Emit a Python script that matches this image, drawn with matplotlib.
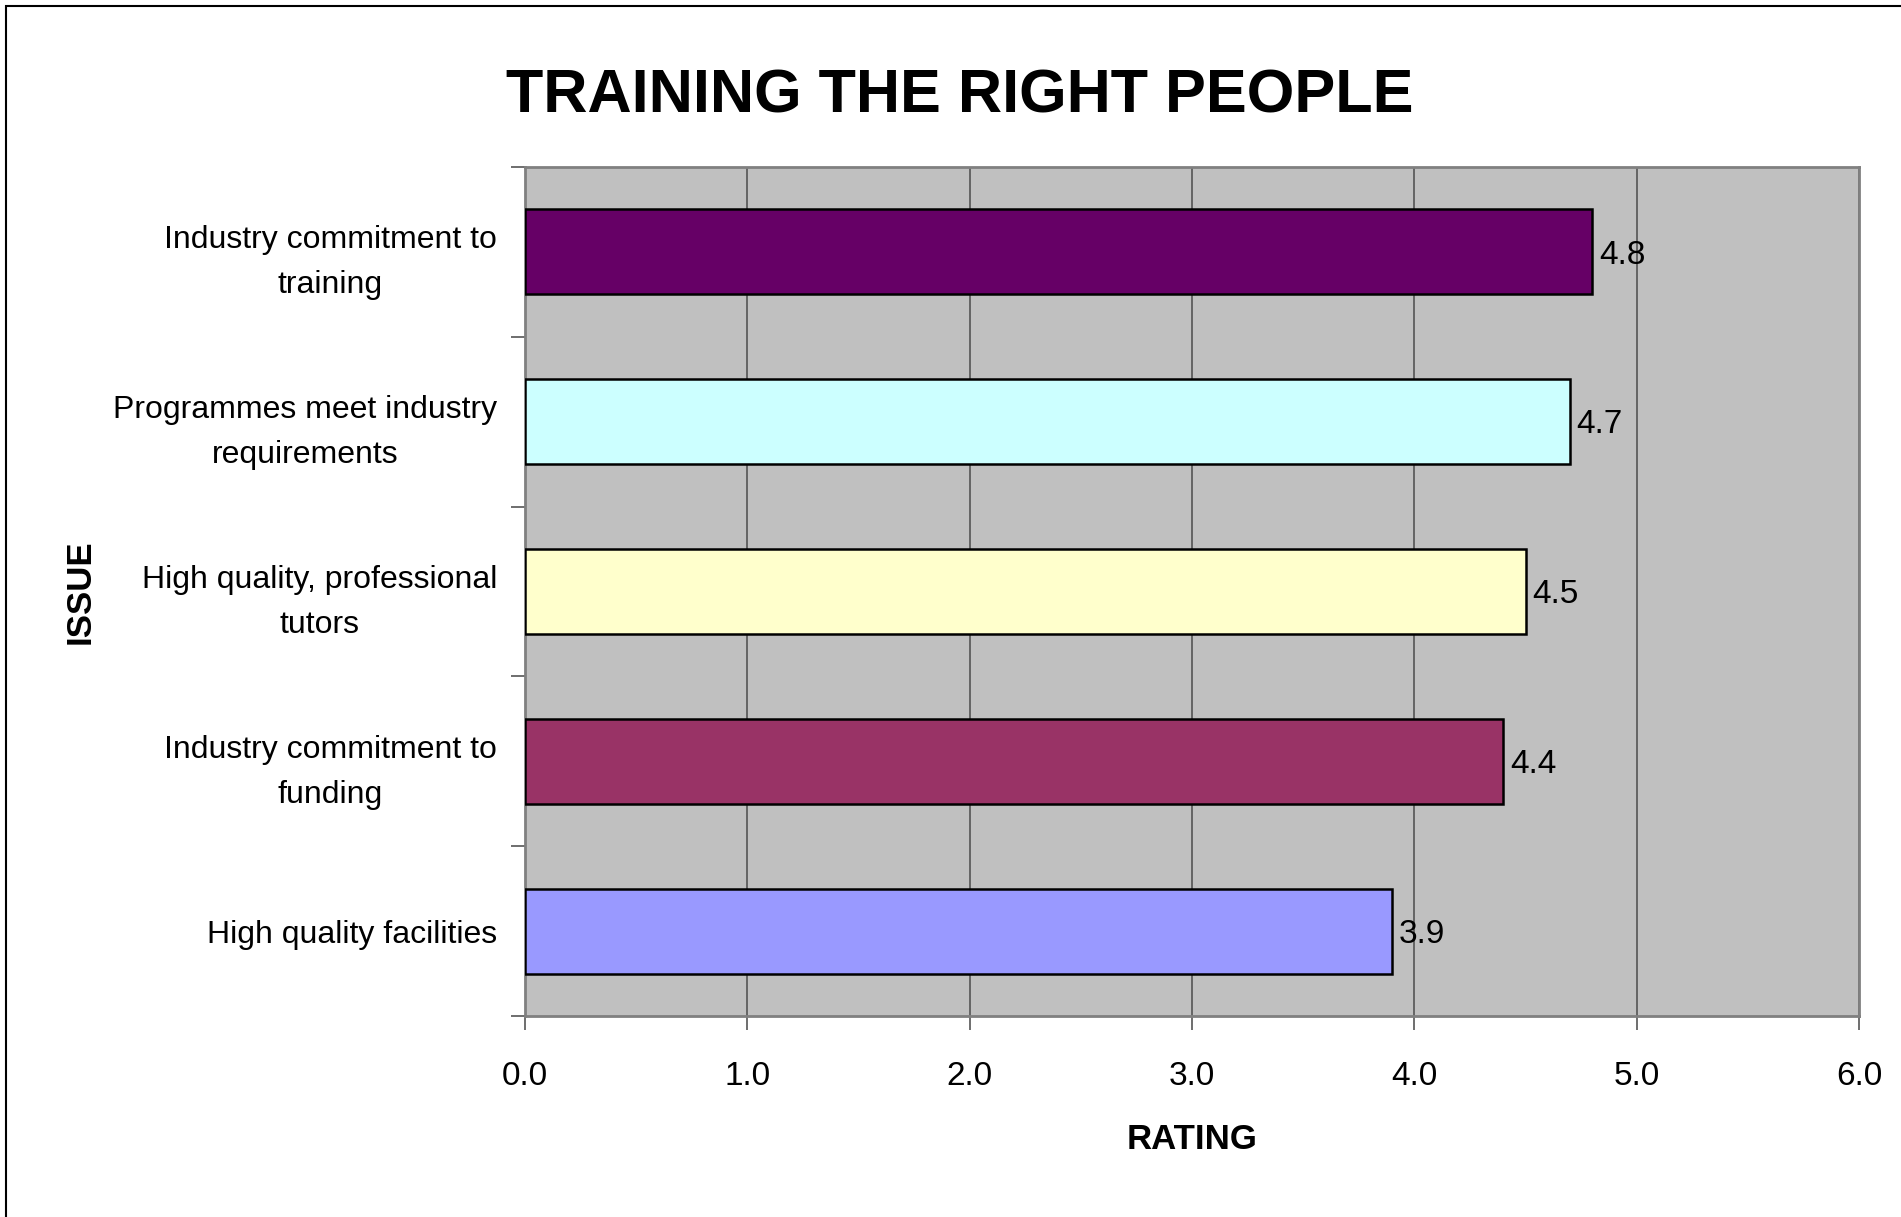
import matplotlib.pyplot as plt
from matplotlib.patches import Rectangle

issues = ['Industry commitment to\ntraining',
          'Programmes meet industry\nrequirements',
          'High quality, professional\ntutors',
          'Industry commitment to\nfunding',
          'High quality facilities']
ratings = [4.8, 4.7, 4.5, 4.4, 3.9]
colors = ['#660066', '#CCFFFF', '#FFFFCC', '#993366', '#9999FF']
xticks = [0.0, 1.0, 2.0, 3.0, 4.0, 5.0, 6.0]

plt.rcParams['font.family'] = ['Liberation Sans', 'DejaVu Sans']

fig = plt.figure(figsize=(19.01, 12.17), dpi=100)
ax = fig.add_axes([0.276, 0.165, 0.702, 0.698])

# outer frame of the chart area
fig.patches.append(Rectangle((6/1901, -0.05), 1.2, 1 - 6/1217 + 0.05,
                             transform=fig.transFigure, fill=False,
                             edgecolor='black', linewidth=1.5, zorder=0))

n = len(issues)
ypos = list(range(n))
ax.barh(ypos, ratings, height=0.5, color=colors, edgecolor='black',
        linewidth=1.8, zorder=3)
for y, v in zip(ypos, ratings):
    ax.text(v + 0.03, y + 0.02, f'{v:.1f}', va='center', ha='left',
            fontsize=24, zorder=4)

ax.set_xlim(0, 6)
ax.set_ylim(n - 0.5, -0.5)
ax.set_facecolor('#C0C0C0')
ax.set_xticks(xticks)
ax.set_xticklabels([f'{t:.1f}' for t in xticks], fontsize=24)
ax.tick_params(axis='x', length=10, width=1.2, color='#555555', pad=22)
ax.xaxis.grid(True, color='#555555', linewidth=1.2, zorder=1)

ax.set_yticks(ypos)
ax.set_yticklabels(issues, fontsize=23, ha='right', multialignment='center',
                   linespacing=1.65)
ax.tick_params(axis='y', length=0, pad=20)
ax.set_yticks([i - 0.5 for i in range(n + 1)], minor=True)
ax.tick_params(axis='y', which='minor', length=10, width=1.2, color='#555555')

for s in ax.spines.values():
    s.set_color('#808080')
    s.set_linewidth(2)

ax.set_xlabel('RATING', fontsize=25, fontweight='bold')
ax.xaxis.set_label_coords(0.5, -0.126)
ax.set_ylabel('ISSUE', fontsize=25, fontweight='bold')
ax.yaxis.set_label_coords(-0.321, 0.5)

fig.text(0.505, 0.92, 'TRAINING THE RIGHT PEOPLE', fontsize=44,
         fontweight='bold', ha='center', va='center')

fig.savefig('out.png', dpi=100)
